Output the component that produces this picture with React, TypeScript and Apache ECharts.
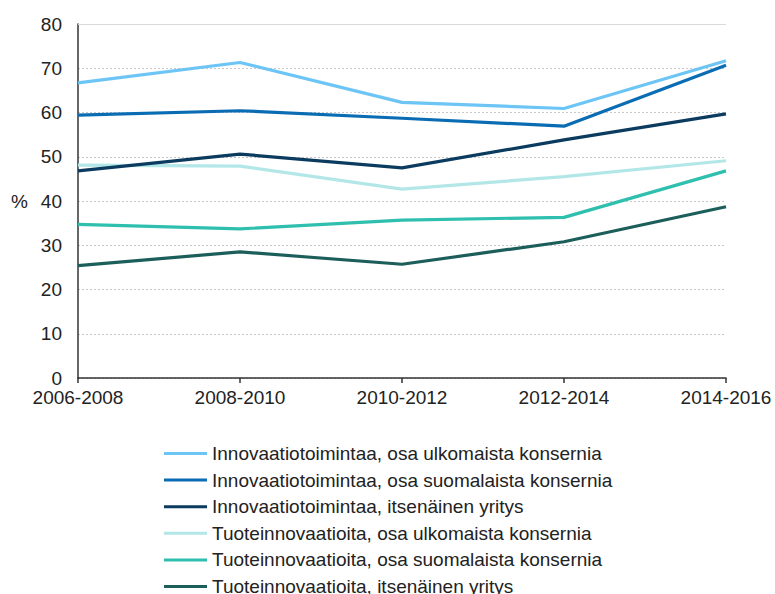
import React, { useEffect, useRef } from "react";
import * as echarts from "echarts";

const categories = ["2006-2008", "2008-2010", "2010-2012", "2012-2014", "2014-2016"];

const seriesNames = [
  "Innovaatiotoimintaa, osa ulkomaista konsernia",
  "Innovaatiotoimintaa, osa suomalaista konsernia",
  "Innovaatiotoimintaa, itsenäinen yritys",
  "Tuoteinnovaatioita, osa ulkomaista konsernia",
  "Tuoteinnovaatioita, osa suomalaista konsernia",
  "Tuoteinnovaatioita, itsenäinen yritys",
];

const innoUlko = [66.7, 71.3, 62.3, 60.9, 71.7];
const innoSuomi = [59.4, 60.4, 58.7, 56.9, 70.7];
const innoItsen = [46.8, 50.6, 47.5, 53.8, 59.7];
const tuoteUlko = [48.1, 47.9, 42.7, 45.5, 49.1];
const tuoteSuomi = [34.7, 33.7, 35.7, 36.3, 46.8];
const tuoteItsen = [25.4, 28.5, 25.7, 30.8, 38.7];

const seriesValues = [innoUlko, innoSuomi, innoItsen, tuoteUlko, tuoteSuomi, tuoteItsen];
const colors = ["#6cc5f5", "#0a6db3", "#0b3b5f", "#b3e7e7", "#2fbfae", "#1c5e5a"];

const yTicks = { min: 0, max: 80, interval: 10 };

const FONT = "'Liberation Sans', Arial, sans-serif";

export default function App() {
  const ref = useRef<HTMLDivElement>(null);
  useEffect(() => {
    if (!ref.current) return;
    const chart = echarts.init(ref.current, undefined, { renderer: "svg" });
    const series: any[] = seriesValues.map((vals, i) => ({
      name: seriesNames[i],
      type: "line",
      data: vals,
      symbol: "none",
      lineStyle: { width: 3.2, color: colors[i] },
      itemStyle: { color: colors[i] },
      z: 10 - i,
    }));
    series[0].markLine = {
      silent: true,
      symbol: "none",
      label: { show: false },
      lineStyle: { type: "solid", color: "#d9d9d9", width: 1 },
      data: [{ yAxis: yTicks.max }],
      z: 1,
    };
    chart.setOption({
      animation: false,
      textStyle: { fontFamily: FONT },
      grid: { left: 78, right: 49, top: 24, bottom: 216, containLabel: false },
      xAxis: {
        type: "category",
        data: categories,
        boundaryGap: false,
        axisLine: { lineStyle: { color: "#333", width: 1.5 } },
        axisTick: { show: true, length: 5, alignWithLabel: true, lineStyle: { color: "#333", width: 1.5 } },
        axisLabel: { fontSize: 19, color: "#222", fontFamily: FONT, margin: 10 },
        splitLine: { show: false },
      },
      yAxis: {
        type: "value",
        min: yTicks.min,
        max: yTicks.max,
        interval: yTicks.interval,
        name: "%",
        nameLocation: "middle",
        nameRotate: 0,
        nameGap: 50,
        nameTextStyle: { fontSize: 19, color: "#222", fontFamily: FONT },
        axisLine: { show: true, lineStyle: { color: "#333", width: 1.5 } },
        axisTick: { show: false },
        axisLabel: { fontSize: 19, color: "#222", fontFamily: FONT, margin: 16 },
        splitLine: { show: true, lineStyle: { color: "#c8c8c8", type: [2, 2], width: 1 } },
      },
      legend: {
        orient: "vertical",
        left: 164,
        top: 444,
        height: 220,
        padding: 0,
        itemWidth: 43,
        itemHeight: 3,
        itemGap: 7.6,
        icon: "rect",
        textStyle: { fontSize: 19, color: "#222", fontFamily: FONT, lineHeight: 19 },
        data: seriesNames,
      },
      series,
    });
    return () => chart.dispose();
  }, []);
  return (
    <div
      ref={ref}
      style={{ position: "absolute", left: 0, top: 0, width: 775, height: 594, background: "#fff" }}
    />
  );
}
